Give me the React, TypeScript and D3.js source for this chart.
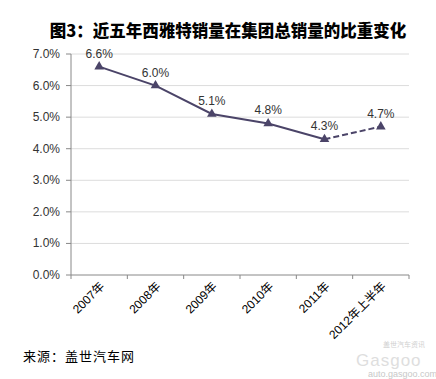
import React from "react";
import * as d3 from "d3";

const categories = ["2007年", "2008年", "2009年", "2010年", "2011年", "2012年上半年"];
const values = [6.6, 6.0, 5.1, 4.8, 4.3, 4.7];
const valueLabels = ["6.6%", "6.0%", "5.1%", "4.8%", "4.3%", "4.7%"];
const yTicks = [0, 1, 2, 3, 4, 5, 6, 7];
const title = "图3：近五年西雅特销量在集团总销量的比重变化";
const source = "来源：盖世汽车网";

const W = 436;
const H = 379;
const left = 71;
const right = 409;
const top = 54;
const bottom = 275;
const lineColor = "#4b4468";
const font = "Arial, 'Liberation Sans', 'Noto Sans CJK SC', sans-serif";

export default function App() {
  const x = d3.scaleBand<string>().domain(categories).range([left, right]);
  const y = d3.scaleLinear().domain([0, 7]).range([bottom, top]);
  const cx = (c: string) => (x(c) as number) + x.bandwidth() / 2;
  const pts = categories.map((c, i) => [cx(c), y(values[i])] as [number, number]);
  const line = d3.line();
  const solid = line(pts.slice(0, 5)) as string;
  const dashed = line(pts.slice(4)) as string;
  const tri = d3.symbol().type(d3.symbolTriangle).size(40)() as string;
  const boundaries = [left, ...categories.map((c) => (x(c) as number) + x.bandwidth())];

  return (
    <svg width={W} height={H} style={{ position: "absolute", left: 0, top: 0, background: "#fff" }}>
      <text
        x={228}
        y={37}
        textAnchor="middle"
        fontSize={16.5}
        fontWeight={900}
        fontFamily="'Noto Sans CJK SC', sans-serif"
        fill="#000"
      >
        {title}
      </text>
      {yTicks.map((t) => (
        <g key={t}>
          {t > 0 && (
            <line x1={left} x2={right} y1={y(t)} y2={y(t)} stroke="#dcdcdc" strokeWidth={1} />
          )}
          <line x1={left - 5} x2={left} y1={y(t)} y2={y(t)} stroke="#888" strokeWidth={1} />
          <text
            x={60}
            y={y(t) + 4}
            textAnchor="end"
            fontSize={12}
            fontFamily={font}
            fill="#333"
          >
            {t.toFixed(1) + "%"}
          </text>
        </g>
      ))}
      <line x1={left} x2={left} y1={top} y2={bottom} stroke="#888" strokeWidth={1} />
      <line x1={left} x2={right} y1={bottom} y2={bottom} stroke="#888" strokeWidth={1} />
      {boundaries.map((b, i) => (
        <line key={i} x1={b} x2={b} y1={bottom} y2={bottom + 4} stroke="#888" strokeWidth={1} />
      ))}
      {categories.map((c) => (
        <text
          key={c}
          transform={`translate(${cx(c) + 6},${bottom + 12}) rotate(-45)`}
          textAnchor="end"
          fontSize={12}
          fontFamily={font}
          fill="#000"
        >
          {c}
        </text>
      ))}
      <path d={solid} fill="none" stroke={lineColor} strokeWidth={2} />
      <path d={dashed} fill="none" stroke={lineColor} strokeWidth={2} strokeDasharray="6,3" />
      {pts.map((p, i) => (
        <g key={i}>
          <path d={tri} transform={`translate(${p[0]},${p[1]})`} fill={lineColor} />
          <text
            x={p[0]}
            y={p[1] - 9}
            textAnchor="middle"
            fontSize={12}
            fontFamily={font}
            fill="#333"
          >
            {valueLabels[i]}
          </text>
        </g>
      ))}
      <text
        x={23}
        y={361}
        fontSize={13}
        letterSpacing={1}
        fontFamily="'Noto Sans CJK SC', serif"
        fill="#000"
      >
        {source}
      </text>
      <text x={383} y={347} fontSize={7} fontFamily={font} fill="#d0d0d0">
        盖世汽车资讯
      </text>
      <text x={356} y={366} fontSize={17} fontFamily={font} fill="#dedede" letterSpacing={1}>
        Gasgoo
      </text>
      <text x={368} y={377} fontSize={9} fontFamily={font} fill="#c8c8c8">
        auto.gasgoo.com
      </text>
    </svg>
  );
}
